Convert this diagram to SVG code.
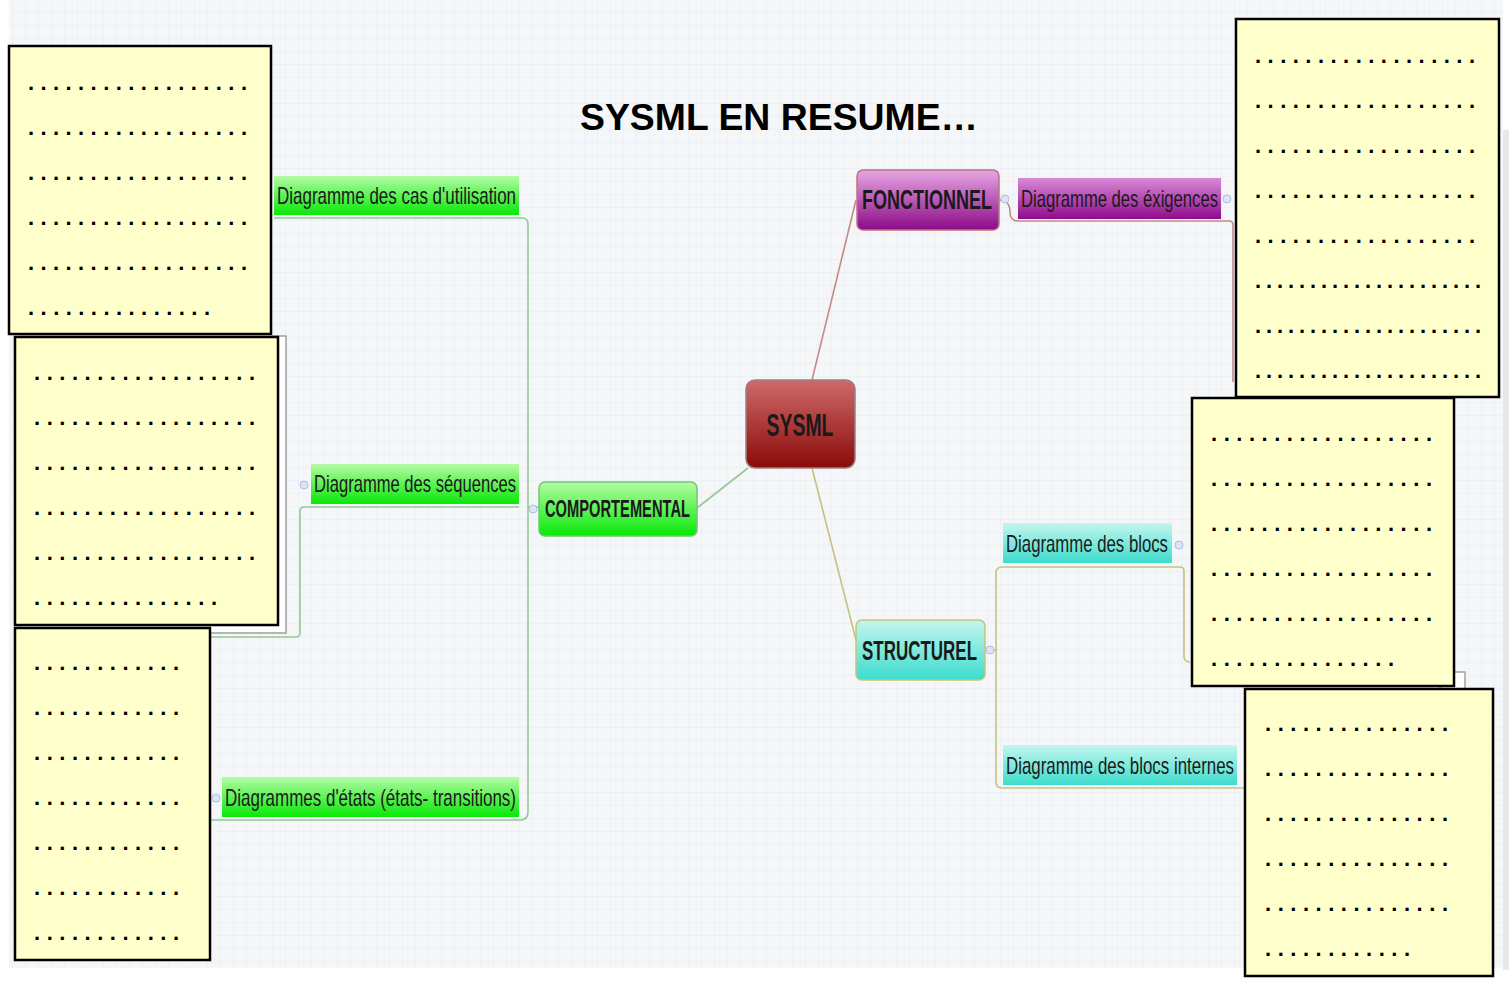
<svg xmlns="http://www.w3.org/2000/svg" width="1509" height="990" viewBox="0 0 1509 990">
<defs>
<pattern id="grid" width="13" height="13" patternUnits="userSpaceOnUse">
<rect width="13" height="13" fill="#f4f6f8"/>
<path d="M13 0V13M0 13H13" stroke="#e2edf4" stroke-width="1" fill="none"/>
</pattern>
<linearGradient id="gRed" x1="0" y1="0" x2="0" y2="1"><stop offset="0" stop-color="#cf6a6a"/><stop offset="1" stop-color="#8a0a0a"/></linearGradient>
<linearGradient id="gPur" x1="0" y1="0" x2="0" y2="1"><stop offset="0" stop-color="#e6a6e2"/><stop offset="1" stop-color="#8c0a88"/></linearGradient>
<linearGradient id="gPur2" x1="0" y1="0" x2="0" y2="1"><stop offset="0" stop-color="#d78ad6"/><stop offset="1" stop-color="#900c8e"/></linearGradient>
<linearGradient id="gGrn" x1="0" y1="0" x2="0" y2="1"><stop offset="0" stop-color="#b4fca4"/><stop offset="1" stop-color="#08e808"/></linearGradient>
<linearGradient id="gCyan" x1="0" y1="0" x2="0" y2="1"><stop offset="0" stop-color="#c4f6ee"/><stop offset="1" stop-color="#3cdccc"/></linearGradient>
</defs>
<style>
.node text{font-family:"Liberation Sans Narrow","Liberation Sans",Arial,sans-serif;fill:#1a1a1a;}
.main{font-weight:bold;}
.note rect{fill:#ffffcc;stroke:#000;stroke-width:2.5;}
.note text{font-family:"Liberation Sans",Arial,sans-serif;font-weight:bold;font-size:22px;fill:#000;}
.tog{fill:#dde4f4;stroke:#b0bde0;stroke-width:1;}
.lg{fill:none;stroke:#96c896;stroke-width:1.6;}
.lr{fill:none;stroke:#c48a8a;stroke-width:1.6;}
.lo{fill:none;stroke:#c6c27e;stroke-width:1.6;}
</style>
<rect x="0" y="0" width="1509" height="990" fill="#ffffff"/>
<rect x="9" y="0" width="1494" height="968" fill="url(#grid)"/>
<rect x="1503" y="130" width="6" height="840" fill="#e8e8e8"/>

<text x="779" y="130" text-anchor="middle" font-family="Liberation Sans,Arial,sans-serif" font-weight="bold" font-size="36" textLength="398" lengthAdjust="spacingAndGlyphs" fill="#000">SYSML EN RESUME…</text>

<g id="connectors">
<path class="lr" d="M812 380L856 200"/>
<path class="lg" d="M748 468L697 508"/>
<path class="lo" d="M812 468L856 640"/>
<path class="lg" d="M274 218H522Q528 218 528 224V812Q528 820 520 820H210"/>
<path class="lg" d="M528 507H539"/>
<path class="lg" d="M519 507H304Q300 507 300 511V633Q300 637 296 637H210"/>
<path class="lr" d="M999 200Q1010 200 1010 212Q1010 221 1018 221H1229Q1233 221 1233 225V382"/>
<path class="lo" d="M996 650V782Q996 788 1002 788H1245"/>
<path class="lo" d="M996 650V573Q996 567 1002 567H1180Q1184 567 1184 571V656Q1184 662 1190 662"/>
<path class="lo" d="M985 650H996"/>
</g>

<g id="node-sysml" class="node">
<rect x="746" y="380" width="109" height="88" rx="9" fill="url(#gRed)" stroke="#9a8080" stroke-width="1.5"/>
<text class="main" x="800" y="436" text-anchor="middle" font-size="31" textLength="67" lengthAdjust="spacingAndGlyphs">SYSML</text>
</g>
<g id="node-fonctionnel" class="node">
<rect x="857" y="170" width="142" height="60" rx="6" fill="url(#gPur)" stroke="#c07080" stroke-width="1.5"/>
<text class="main" x="927" y="209" text-anchor="middle" font-size="27" textLength="130" lengthAdjust="spacingAndGlyphs">FONCTIONNEL</text>
<circle class="tog" cx="1005" cy="199" r="4"/>
</g>
<g id="node-exigences" class="node">
<rect x="1018" y="178" width="203" height="41" fill="url(#gPur2)"/>
<text x="1119.5" y="207" text-anchor="middle" font-size="24" textLength="197" lengthAdjust="spacingAndGlyphs">Diagramme des éxigences</text>
<circle class="tog" cx="1227" cy="199" r="4"/>
</g>
<g id="node-comportemental" class="node">
<rect x="539" y="482" width="158" height="54" rx="6" fill="url(#gGrn)" stroke="#70c870" stroke-width="1.5"/>
<text class="main" x="617.5" y="517" text-anchor="middle" font-size="23" textLength="145" lengthAdjust="spacingAndGlyphs">COMPORTEMENTAL</text>
<circle class="tog" cx="533" cy="509" r="4"/>
</g>
<g id="node-structurel" class="node">
<rect x="856" y="620" width="129" height="60" rx="6" fill="url(#gCyan)" stroke="#c6c27e" stroke-width="1.5"/>
<text class="main" x="919.5" y="660" text-anchor="middle" font-size="27" textLength="115" lengthAdjust="spacingAndGlyphs">STRUCTUREL</text>
<circle class="tog" cx="990" cy="650" r="4"/>
</g>
<g id="node-blocs" class="node">
<rect x="1003" y="523" width="169" height="40" fill="url(#gCyan)"/>
<text x="1087" y="552" text-anchor="middle" font-size="24" textLength="162" lengthAdjust="spacingAndGlyphs">Diagramme des blocs</text>
<circle class="tog" cx="1179" cy="545" r="4"/>
</g>
<g id="node-blocs-internes" class="node">
<rect x="1003" y="745" width="234" height="40" fill="url(#gCyan)"/>
<text x="1120" y="774" text-anchor="middle" font-size="24" textLength="228" lengthAdjust="spacingAndGlyphs">Diagramme des blocs internes</text>
</g>
<g id="node-cas" class="node">
<rect x="274" y="176" width="245" height="39" fill="url(#gGrn)"/>
<text x="396.5" y="204" text-anchor="middle" font-size="24" textLength="239" lengthAdjust="spacingAndGlyphs">Diagramme des cas d'utilisation</text>
</g>
<g id="node-sequences" class="node">
<rect x="311" y="464" width="208" height="40" fill="url(#gGrn)"/>
<text x="415" y="492" text-anchor="middle" font-size="24" textLength="202" lengthAdjust="spacingAndGlyphs">Diagramme des séquences</text>
<circle class="tog" cx="304" cy="485" r="4"/>
</g>
<g id="node-etats" class="node">
<rect x="222" y="777" width="297" height="40" fill="url(#gGrn)"/>
<text x="370.5" y="806" text-anchor="middle" font-size="24" textLength="291" lengthAdjust="spacingAndGlyphs">Diagrammes d'états (états- transitions)</text>
<circle class="tog" cx="216" cy="798" r="4"/>
</g>

<g id="note-a" class="note">
<rect x="9" y="46" width="262" height="288"/>
<text x="28" y="90" textLength="219">..................</text>
<text x="28" y="135" textLength="219">..................</text>
<text x="28" y="180" textLength="219">..................</text>
<text x="28" y="225" textLength="219">..................</text>
<text x="28" y="270" textLength="219">..................</text>
<text x="28" y="315" textLength="182">...............</text>
</g>
<rect x="20" y="336" width="266" height="297" fill="#ffffff" stroke="#a0a0a0" stroke-width="1.5"/>
<g id="note-b" class="note">
<rect x="15" y="337" width="263" height="288"/>
<text x="34" y="380" textLength="221">..................</text>
<text x="34" y="425" textLength="221">..................</text>
<text x="34" y="470" textLength="221">..................</text>
<text x="34" y="515" textLength="221">..................</text>
<text x="34" y="560" textLength="221">..................</text>
<text x="34" y="605" textLength="183">...............</text>
</g>
<g id="note-c" class="note">
<rect x="15" y="628" width="195" height="332"/>
<text x="34" y="670" textLength="145">............</text>
<text x="34" y="715" textLength="145">............</text>
<text x="34" y="760" textLength="145">............</text>
<text x="34" y="805" textLength="145">............</text>
<text x="34" y="850" textLength="145">............</text>
<text x="34" y="895" textLength="145">............</text>
<text x="34" y="940" textLength="145">............</text>
</g>
<g id="note-d" class="note">
<rect x="1236" y="19" width="263" height="378"/>
<text x="1255" y="63" textLength="220">..................</text>
<text x="1255" y="108" textLength="220">..................</text>
<text x="1255" y="153" textLength="220">..................</text>
<text x="1255" y="198" textLength="220">..................</text>
<text x="1255" y="243" textLength="220">..................</text>
<text x="1255" y="288" textLength="226">.....................</text>
<text x="1255" y="333" textLength="226">.....................</text>
<text x="1255" y="378" textLength="226">.....................</text>
</g>
<rect x="1440" y="672" width="25" height="18" fill="#ffffff" stroke="#a0a0a0" stroke-width="1.5"/>
<g id="note-e" class="note">
<rect x="1192" y="398" width="262" height="288"/>
<text x="1211" y="441" textLength="221">..................</text>
<text x="1211" y="486" textLength="221">..................</text>
<text x="1211" y="531" textLength="221">..................</text>
<text x="1211" y="576" textLength="221">..................</text>
<text x="1211" y="621" textLength="221">..................</text>
<text x="1211" y="666" textLength="183">...............</text>
</g>
<g id="note-f" class="note">
<rect x="1245" y="689" width="248" height="287"/>
<text x="1265" y="731" textLength="183">...............</text>
<text x="1265" y="776" textLength="183">...............</text>
<text x="1265" y="821" textLength="183">...............</text>
<text x="1265" y="866" textLength="183">...............</text>
<text x="1265" y="911" textLength="183">...............</text>
<text x="1265" y="956" textLength="145">............</text>
</g>
</svg>
